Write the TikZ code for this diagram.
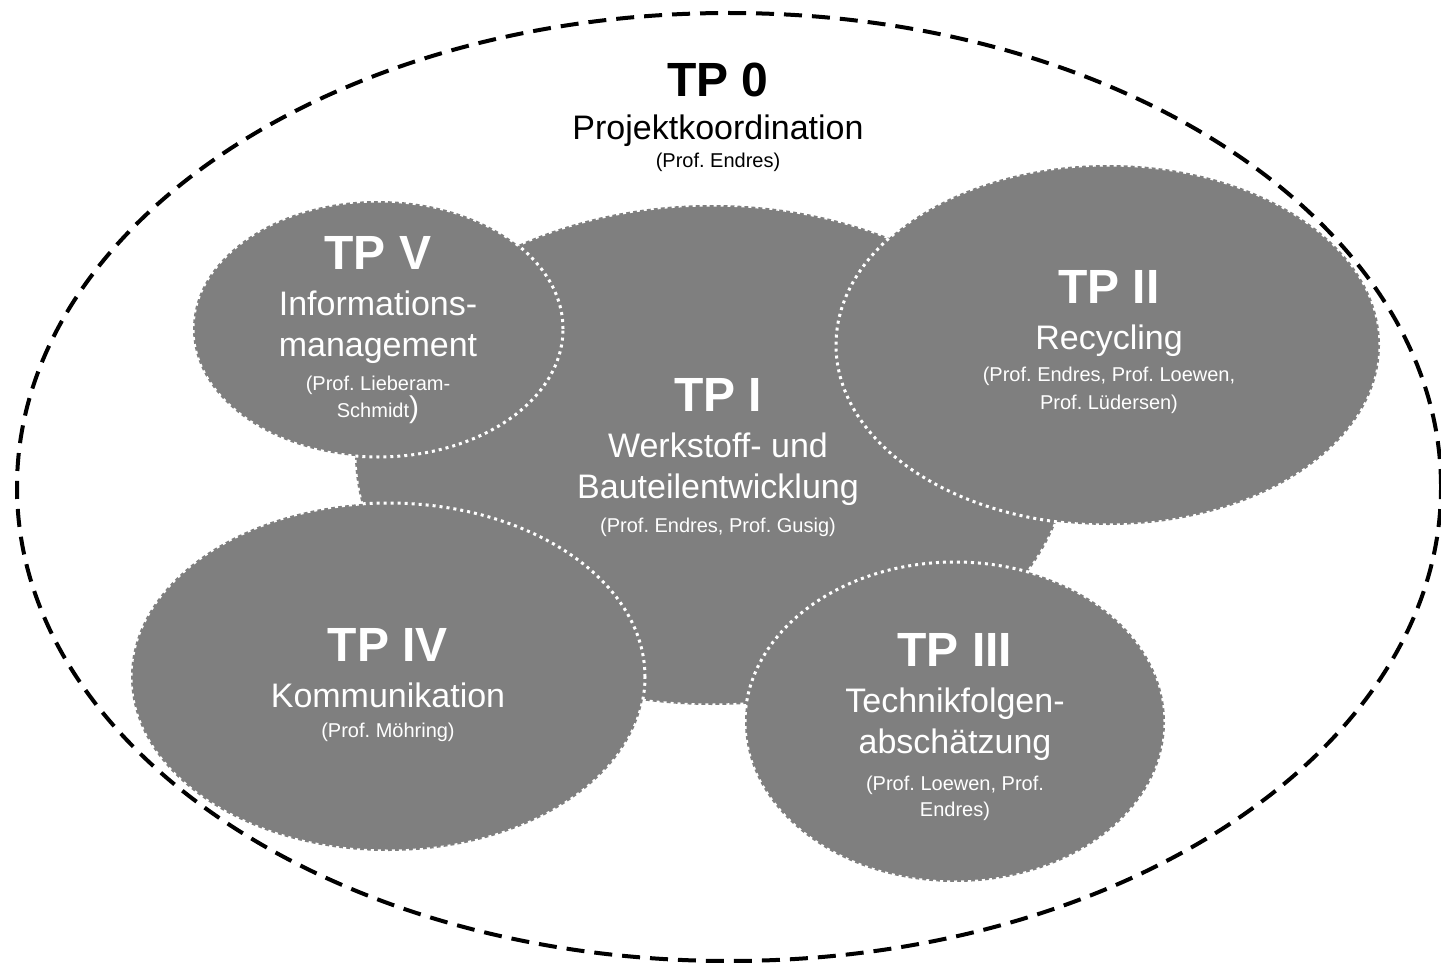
\documentclass[tikz,border=0pt]{standalone}
\usepackage{fontspec}
\setmainfont{Liberation Sans}
\usepackage{tikz}
\usetikzlibrary{shapes.geometric, positioning}
\definecolor{tpgray}{HTML}{7F7F7F}
\newcommand{\tpbig}{\fontsize{24}{24}\selectfont\bfseries}
\newcommand{\tpmid}{\fontsize{17}{20.5}\selectfont}
\newcommand{\tpsml}{\fontsize{10}{12}\selectfont}
\frenchspacing

\begin{document}
\begin{tikzpicture}[
  x=0.5pt, y=-0.5pt,
  outer/.style={ellipse, draw=black, line width=2pt, dash pattern=on 9pt off 5pt,
                inner sep=0pt},
  blob/.style={ellipse, fill=tpgray, draw=white, line width=1.5pt,
               dash pattern=on 1.5pt off 2pt, inner sep=0pt},
  txt/.style={align=center, text=white, inner sep=0pt, font=\tpmid},
]
  \useasboundingbox (0,0) rectangle (1441,963);

  % projekt frame
  \node[outer, minimum width=712pt, minimum height=474pt] (tp0) at (729,487) {};

  % teilprojekte
  \node[blob, minimum width=357pt, minimum height=250pt] (tp1) at (712,455) {};
  \node[blob, minimum width=185pt, minimum height=128pt] (tp5) at (378,329) {};
  \node[blob, minimum width=272pt, minimum height=180pt] (tp2) at (1108,345) {};
  \node[blob, minimum width=257pt, minimum height=174pt] (tp4) at (388,677) {};
  \node[blob, minimum width=210pt, minimum height=160pt] (tp3) at (955,722) {};

  % labels
  \node[txt, text=black] (tp0txt) at (718,117) {{\tpbig TP 0}\\[1pt]
    Projektkoordination\\[-6.5pt] {\tpsml (Prof. Endres)}};
  \node[txt] (tp1txt) at (718,458) {{\tpbig TP I}\\[2.5pt]
    Werkstoff- und\\ Bauteilentwicklung\\[-3.5pt]
    {\tpsml (Prof. Endres, Prof. Gusig)}};
  \node[txt] (tp5txt) at (378,330) {{\tpbig TP V}\\[2.5pt]
    Informations-\\ management\\[-3.5pt]
    {\tpsml (Prof. Lieberam-}\\[-7pt] {\tpsml Schmidt}{\fontsize{15}{18}\selectfont )}};
  \node[txt] (tp2txt) at (1109,342) {{\tpbig TP II}\\[2.5pt]
    Recycling\\[-4.5pt] {\tpsml (Prof. Endres, Prof. Loewen,}\\[-6.5pt]
    {\tpsml Prof. L\"udersen)}};
  \node[txt] (tp4txt) at (388,685) {{\tpbig TP IV}\\[2.5pt]
    Kommunikation\\[-5.5pt] {\tpsml (Prof. M\"ohring)}};
  \node[txt] (tp3txt) at (955,727) {{\tpbig TP III}\\[2.5pt]
    Technikfolgen-\\ absch\"atzung\\[-2pt]
    {\tpsml (Prof. Loewen, Prof.}\\[-7.5pt] {\tpsml Endres)}};
\end{tikzpicture}
\end{document}
